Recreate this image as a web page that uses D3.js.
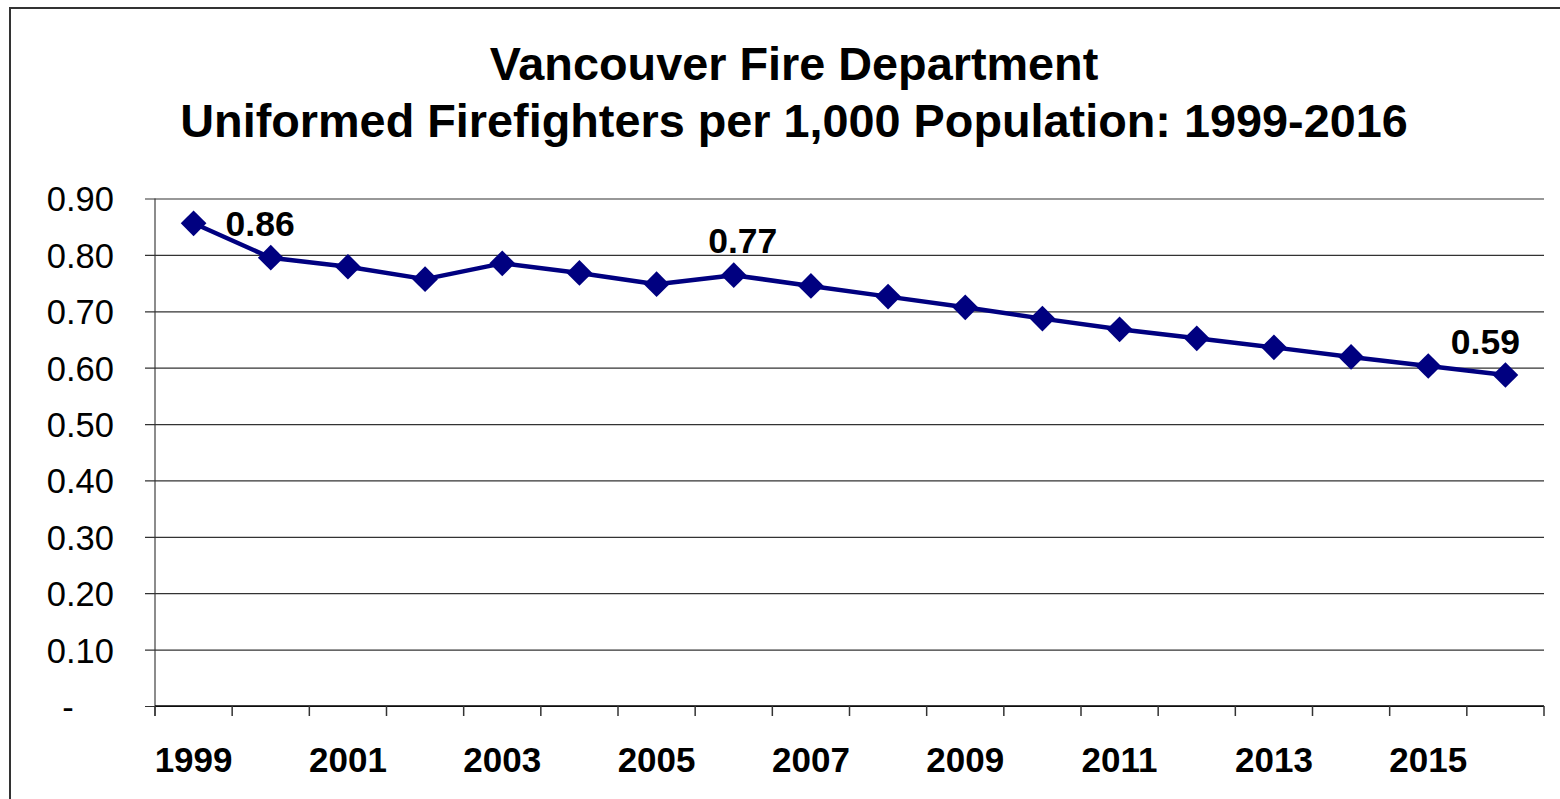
<!DOCTYPE html>
<html>
<head>
<meta charset="utf-8">
<script src="https://cdn.jsdelivr.net/npm/d3@7/dist/d3.min.js"></script>
<style>
  html, body { margin: 0; padding: 0; background: #fff; }
  svg { display: block; }
  text { font-family: "Liberation Sans", Arial, sans-serif; }
</style>
</head>
<body>
<svg id="chart" width="1560" height="799"></svg>
<script>
const years = [1999,2000,2001,2002,2003,2004,2005,2006,2007,2008,2009,2010,2011,2012,2013,2014,2015,2016];
const values = [0.856,0.795,0.779,0.757,0.785,0.768,0.748,0.764,0.745,0.726,0.707,0.687,0.668,0.652,0.636,0.619,0.603,0.587];
const yTicks = [0,0.1,0.2,0.3,0.4,0.5,0.6,0.7,0.8,0.9];
const xLabelYears = [1999,2001,2003,2005,2007,2009,2011,2013,2015];
const labelled = [
  {year: 1999, text: "0.86", dx: 32, dy: 13, anchor: "start"},
  {year: 2006, text: "0.77", dx: 9, dy: -22, anchor: "middle"},
  {year: 2016, text: "0.59", dx: -20, dy: -21, anchor: "middle"}
];
const titleLines = ["Vancouver Fire Department", "Uniformed Firefighters per 1,000 Population: 1999-2016"];

(function () {
const svg = d3.select("#chart");
const pLeft = 155, pRight = 1544, pTop = 198.5, pBottom = 706;

// outer frame
svg.append("path").attr("d", "M10,799 L10,8 L1560,8")
  .attr("fill", "none").attr("stroke", "#333").attr("stroke-width", 2);

// title
svg.append("g").selectAll("text").data(titleLines).join("text")
  .attr("x", 794).attr("y", (d, i) => 80 + i * 57)
  .attr("text-anchor", "middle").attr("font-weight", "bold")
  .attr("font-size", 46.8).attr("fill", "#000").text(d => d);

const x = d3.scaleBand().domain(years).range([pLeft, pRight]).paddingInner(0).paddingOuter(0);
const y = d3.scaleLinear().domain([0, 0.9]).range([pBottom, pTop]);

// gridlines + y axis
const yAxis = d3.axisLeft(y).tickValues(yTicks)
  .tickSize(-(pRight - pLeft)).tickSizeOuter(0)
  .tickFormat(d => d === 0 ? "-" : d3.format(".2f")(d));
const gy = svg.append("g").attr("transform", `translate(${pLeft},0)`).call(yAxis);
gy.select(".domain").attr("stroke", "#666").attr("stroke-width", 1.5)
  .attr("d", `M0,${pTop}V${pBottom + 10}`);
gy.selectAll(".tick line").attr("x1", -10).attr("stroke", "#333").attr("stroke-width", 1.2);
gy.selectAll(".tick text").attr("x", -41).attr("dy", "0.36em")
  .attr("font-size", 34.5).attr("fill", "#000")
  .attr("font-family", "'Liberation Sans', Arial, sans-serif");
gy.selectAll(".tick").filter(d => d === 0).select("text").attr("x", -87).attr("text-anchor", "middle");

// x axis
const xAxis = d3.axisBottom(x).tickSize(0).tickFormat(d => xLabelYears.includes(d) ? d : "");
const gx = svg.append("g").attr("transform", `translate(0,${pBottom})`).call(xAxis);
gx.select(".domain").attr("d", `M${pLeft},0H${pRight}`).attr("stroke", "#000").attr("stroke-width", 1.5);
gx.selectAll(".tick text").attr("y", 66).attr("dy", 0)
  .attr("font-size", 35).attr("font-weight", "bold").attr("fill", "#000")
  .attr("font-family", "'Liberation Sans', Arial, sans-serif");
const bounds = years.map(d => x(d)).concat([pRight]);
gx.append("g").selectAll("line").data(bounds).join("line")
  .attr("x1", d => d).attr("x2", d => d).attr("y1", 0).attr("y2", 10)
  .attr("stroke", "#333").attr("stroke-width", 1.5);

// line
const cx = d => x(d) + x.bandwidth() / 2;
const line = d3.line().x((d, i) => cx(years[i])).y(d => y(d));
svg.append("path").datum(values).attr("d", line)
  .attr("fill", "none").attr("stroke", "#000080").attr("stroke-width", 4.5)
  .attr("stroke-linejoin", "round");

// markers
svg.append("g").selectAll("path").data(values).join("path")
  .attr("d", d3.symbol().type(d3.symbolSquare).size(330))
  .attr("transform", (d, i) => `translate(${cx(years[i])},${y(d)}) rotate(45)`)
  .attr("fill", "#000080");

// data labels
svg.append("g").selectAll("text").data(labelled).join("text")
  .attr("x", d => cx(d.year) + d.dx)
  .attr("y", d => y(values[years.indexOf(d.year)]) + d.dy)
  .attr("text-anchor", d => d.anchor)
  .attr("font-size", 35.5).attr("font-weight", "bold").attr("fill", "#000")
  .text(d => d.text);
})();
</script>
</body>
</html>
